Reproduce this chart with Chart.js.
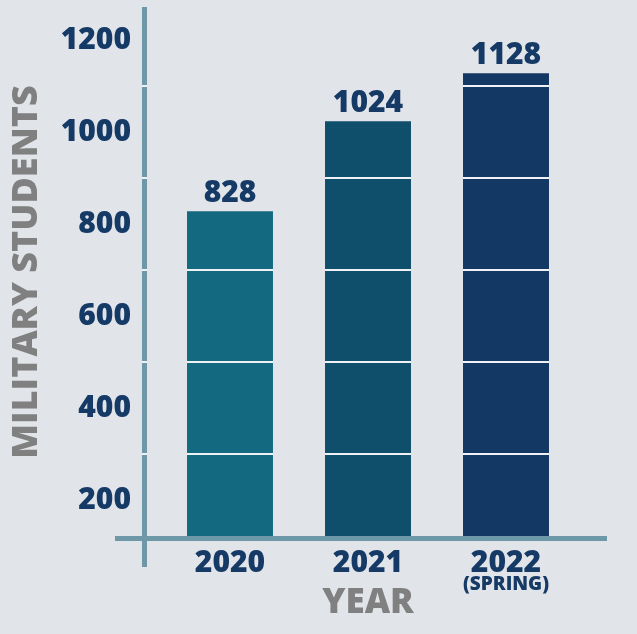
<!DOCTYPE html>
<html>
<head>
<meta charset="utf-8">
<script src="https://cdn.jsdelivr.net/npm/chart.js@4"></script>
<style>
  html, body { margin: 0; padding: 0; background: #e1e4e9; }
  #wrap { width: 637px; height: 634px; }
</style>
</head>
<body>
<div id="wrap"><canvas id="studentsChart" width="637" height="634"></canvas></div>
<script>
// chart data
var years = ['2020', '2021', '2022'];
var subLabels = ['', '', '(SPRING)'];
var students = [828, 1024, 1128];
var barColors = ['#136a80', '#0f4f6b', '#143864'];
var yTicks = [200, 400, 600, 800, 1000, 1200];
var gridValues = [300, 500, 700, 900, 1100];

var NAVY = '#163a66';
var GRAY = '#808080';
var AXIS = '#6e97a8';
var FONT = "'Open Sans', 'DejaVu Sans', sans-serif";

// axis lines, white band lines and value labels
var decorations = {
  id: 'decorations',
  beforeDatasetsDraw: function (chart) {
    var ctx = chart.ctx;
    var area = chart.chartArea;
    ctx.save();
    ctx.fillStyle = AXIS;
    ctx.fillRect(area.left - 19, 7, 5, 560);          // y axis line
    ctx.fillRect(area.left - 46, area.bottom, 492, 5); // x axis line
    ctx.restore();
  },
  afterDatasetsDraw: function (chart) {
    var ctx = chart.ctx;
    var area = chart.chartArea;
    var yScale = chart.scales.y;
    var meta = chart.getDatasetMeta(0);
    ctx.save();
    ctx.fillStyle = '#eef2f5';
    gridValues.forEach(function (v) {
      var py = Math.round(yScale.getPixelForValue(v)) - 1;
      ctx.fillRect(area.left - 19, py, 5, 2);
      meta.data.forEach(function (bar) {
        if (bar.y < py) {
          var w = bar.width;
          ctx.fillRect(bar.x - w / 2, py, w, 2);
        }
      });
    });
    ctx.fillStyle = NAVY;
    ctx.font = '800 30px ' + FONT;
    ctx.textAlign = 'center';
    ctx.textBaseline = 'alphabetic';
    meta.data.forEach(function (bar, i) {
      ctx.fillText(String(students[i]), bar.x, bar.y - 9);
    });
    ctx.restore();
  },
  afterDraw: function (chart) {
    var ctx = chart.ctx;
    var xScale = chart.scales.x;
    ctx.save();
    ctx.fillStyle = NAVY;
    ctx.font = '800 19px ' + FONT;
    ctx.textAlign = 'center';
    ctx.textBaseline = 'middle';
    subLabels.forEach(function (s, i) {
      if (s) ctx.fillText(s, xScale.getPixelForValue(i), 585);
    });
    ctx.restore();
  }
};

document.addEventListener('DOMContentLoaded', function () {
  var canvas = document.getElementById('studentsChart');
  new Chart(canvas.getContext('2d'), {
    type: 'bar',
    data: {
      labels: years,
      datasets: [{
        data: students,
        backgroundColor: barColors,
        borderWidth: 0,
        barPercentage: 0.623,
        categoryPercentage: 1
      }]
    },
    options: {
      responsive: false,
      animation: false,
      layout: { padding: { top: 8, right: 62, bottom: 0, left: 0 } },
      plugins: {
        legend: { display: false },
        tooltip: { enabled: false }
      },
      scales: {
        x: {
          grid: { display: false, drawTicks: false },
          border: { display: false },
          ticks: {
            color: NAVY,
            font: { family: FONT, size: 30, weight: '800' },
            padding: 9,
            maxRotation: 0
          },
          title: {
            display: true,
            text: 'YEAR',
            color: GRAY,
            font: { family: FONT, size: 35, weight: '800' },
            padding: { top: 0, bottom: 10 }
          },
          afterFit: function (scale) {
            scale.height = 98;
            scale.paddingLeft = 0;
            scale.paddingRight = 0;
          }
        },
        y: {
          min: 122,
          max: 1270,
          grid: { display: false, drawTicks: false },
          border: { display: false },
          afterBuildTicks: function (scale) {
            scale.ticks = yTicks.map(function (v) { return { value: v }; });
          },
          ticks: {
            autoSkip: false,
            color: NAVY,
            font: { family: FONT, size: 30, weight: '800' },
            padding: 30,
            callback: function (v) { return String(v); }
          },
          title: {
            display: true,
            text: 'MILITARY STUDENTS',
            color: GRAY,
            font: { family: FONT, size: 36, weight: '800' },
            padding: { top: 5, bottom: 0 }
          },
          afterFit: function (scale) {
            scale.width = 161;
            scale.paddingTop = 0;
            scale.paddingBottom = 0;
          }
        }
      }
    },
    plugins: [decorations]
  });
});
</script>
</body>
</html>
